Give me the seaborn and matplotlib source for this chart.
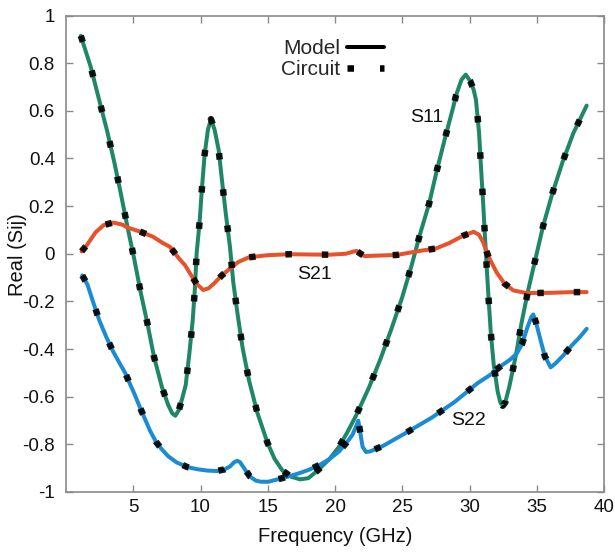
import numpy as np
import pandas as pd
import matplotlib
matplotlib.use("Agg")
import matplotlib.pyplot as plt
import seaborn as sns
from matplotlib.lines import Line2D

# ---- data ----
s11_f = [1.1, 1.84, 2.45, 3.05, 3.6, 4.09, 4.58, 5.08, 5.55, 6.07, 6.54, 7.14, 7.6, 7.9, 8.13,
         8.4, 8.65, 8.9, 9.17, 9.42, 9.59, 9.71, 9.94, 10.11, 10.31, 10.55, 10.78, 11.05, 11.35,
         11.62, 11.9, 12.19, 12.44, 12.77, 13.13, 13.6, 14.22, 14.97, 15.5, 16.08, 16.7, 17.4,
         18.02, 18.7, 19.58, 20.3, 20.91, 21.56, 22.53, 23.4, 24.22, 25.0, 25.7, 26.32, 27.0,
         27.56, 28.18, 28.8, 29.0, 29.4, 29.72, 30.05, 30.3, 30.48, 30.71, 30.85, 31.0, 31.13,
         31.27, 31.42, 31.58, 31.8, 32.1, 32.3, 32.47, 32.65, 32.96, 33.46, 33.88, 34.37, 34.94,
         35.49, 36.16, 36.9, 37.72, 38.71]
s11_v = [0.915, 0.784, 0.649, 0.517, 0.382, 0.249, 0.11, -0.024, -0.161, -0.297, -0.432, -0.561,
         -0.635, -0.67, -0.68, -0.655, -0.605, -0.551, -0.42, -0.28, -0.14, 0.0, 0.138, 0.277,
         0.418, 0.52, 0.565, 0.52, 0.436, 0.296, 0.159, 0.029, -0.121, -0.259, -0.395, -0.53,
         -0.666, -0.792, -0.86, -0.909, -0.935, -0.947, -0.942, -0.91, -0.862, -0.81, -0.75,
         -0.68, -0.561, -0.439, -0.311, -0.182, -0.048, 0.082, 0.211, 0.347, 0.485, 0.618, 0.665,
         0.73, 0.752, 0.725, 0.69, 0.646, 0.509, 0.368, 0.228, 0.092, -0.048, -0.189, -0.329,
         -0.465, -0.58, -0.625, -0.638, -0.625, -0.558, -0.423, -0.287, -0.151, -0.013, 0.12,
         0.253, 0.382, 0.506, 0.622]

s21_f = [1.16, 1.6, 2.2, 2.8, 3.5, 4.2, 4.58, 5.5, 6.45, 7.2, 7.73, 8.4, 8.85, 9.3, 9.71, 10.2,
         10.6, 11.0, 11.6, 12.2, 12.8, 13.6, 15.0, 16.6, 18.0, 19.6, 20.8, 21.3, 21.6, 21.9,
         22.2, 23.0, 24.6, 26.3, 27.5, 28.5, 29.5, 30.3, 30.7, 31.0, 31.4, 32.0, 32.6, 33.26,
         34.25, 36.0, 37.6, 38.71]
s21_v = [0.01, 0.04, 0.09, 0.12, 0.131, 0.122, 0.11, 0.093, 0.072, 0.045, 0.029, -0.02, -0.048,
         -0.09, -0.126, -0.152, -0.145, -0.125, -0.09, -0.062, -0.035, -0.015, -0.006,
         -0.002, -0.003, -0.004, 0.0, 0.008, 0.012, 0.0, -0.01, -0.008, -0.005, 0.012, 0.022,
         0.045, 0.075, 0.092, 0.08, 0.05, -0.01, -0.077, -0.125, -0.154, -0.165, -0.164, -0.161,
         -0.161]

s22_f = [1.21, 1.6, 2.0, 2.48, 3.0, 3.5, 4.01, 4.4, 4.76, 5.1, 5.5, 6.25, 6.7, 7.11, 7.6, 8.23,
         9.0, 9.71, 10.5, 11.2, 11.8, 12.19, 12.5, 12.74, 12.94, 13.3, 13.68, 14.1, 14.5, 15.04,
         15.8, 16.65, 17.4, 18.14, 18.9, 19.58, 20.3, 20.9, 21.3, 21.6, 21.73, 21.85, 22.05, 22.3,
         22.6, 23.59, 25.33, 27.19, 28.92, 30.58, 31.5, 32.27, 33.0, 33.5, 33.9, 34.3, 34.6,
         34.74, 34.95, 35.29, 35.6, 36.03, 36.4, 37.0, 37.6, 38.2, 38.71]
s22_v = [-0.091, -0.13, -0.2, -0.28, -0.35, -0.41, -0.462, -0.5, -0.547, -0.59, -0.645, -0.743,
         -0.79, -0.82, -0.85, -0.876, -0.895, -0.904, -0.91, -0.912, -0.905, -0.893, -0.875,
         -0.869, -0.875, -0.905, -0.935, -0.952, -0.957, -0.957, -0.946, -0.933, -0.92, -0.905,
         -0.885, -0.862, -0.83, -0.79, -0.76, -0.72, -0.701, -0.74, -0.81, -0.832, -0.83, -0.806,
         -0.75, -0.688, -0.621, -0.544, -0.51, -0.474, -0.445, -0.42, -0.38, -0.31, -0.265,
         -0.255, -0.29, -0.364, -0.43, -0.477, -0.46, -0.425, -0.385, -0.35, -0.315]

series_names = ["S11", "S21", "S22"]
series_colors = ["#1f8768", "#e5522b", "#1b8bd2"]
label_pos = {"S11": (26.85, 0.571), "S21": (18.5, -0.088), "S22": (29.9, -0.70)}

x_ticks = [5, 10, 15, 20, 25, 30, 35, 40]
y_ticks = [-1, -0.8, -0.6, -0.4, -0.2, 0, 0.2, 0.4, 0.6, 0.8, 1]
y_tick_labels = ["-1", "-0.8", "-0.6", "-0.4", "-0.2", "0", "0.2", "0.4", "0.6", "0.8", "1"]

# ---- style ----
sns.set_style("ticks")
plt.rcParams["font.family"] = ["Liberation Sans", "DejaVu Sans"]

DPI = 100
fig = plt.figure(figsize=(6.15, 5.52), dpi=DPI)
ax = fig.add_axes([66 / 615, 1 - 492 / 552, (604 - 66) / 615, (492 - 15.5) / 552])

frames = []
for name, f, v in zip(series_names, [s11_f, s21_f, s22_f], [s11_v, s21_v, s22_v]):
    frames.append(pd.DataFrame({"f": f, "v": v, "s": name}))
df = pd.concat(frames, ignore_index=True)

px = 72.0 / DPI  # points per pixel
for name, color in zip(series_names, series_colors):
    d = df[df["s"] == name]
    sns.lineplot(data=d, x="f", y="v", ax=ax, color=color, lw=4 * px,
                 estimator=None, sort=False, legend=False, zorder=2)
for name in series_names:
    d = df[df["s"] == name]
    sns.lineplot(data=d, x="f", y="v", ax=ax, color="black", lw=6.5 * px,
                 estimator=None, sort=False, legend=False, zorder=3, alpha=0.9)
    ax.lines[-1].set_linestyle((0, (1, 4.6)))
    ax.lines[-1].set_dash_capstyle("butt")

for name in series_names:
    x, y = label_pos[name]
    ax.text(x, y, name, ha="center", va="center", fontsize=14, color="#111111")

ax.set_xlim(0, 40)
ax.set_ylim(-1, 1)
ax.set_xticks(x_ticks)
ax.set_xticklabels([str(t) for t in x_ticks])
ax.set_yticks(y_ticks)
ax.set_yticklabels(y_tick_labels)
ax.tick_params(direction="in", top=True, right=True, length=5, width=1,
               color="#8a8a8a", labelsize=13.5, labelcolor="#111111")
ax.tick_params(axis="y", pad=8)
ax.tick_params(axis="x", pad=5)
for sp in ax.spines.values():
    sp.set_visible(True)
    sp.set_color("#8a8a8a")
    sp.set_linewidth(1.2)

ax.set_xlabel("Frequency (GHz)", fontsize=14.5, color="#111111", labelpad=8)
ax.set_ylabel("Real (Sij)", fontsize=14.5, color="#111111")
ax.yaxis.set_label_coords((27 - 66) / 538, (492 - 255) / 476.5)

h_model = Line2D([], [], color="black", lw=4 * px)
h_circ = Line2D([], [], color="black", lw=6.5 * px, linestyle=(0, (1, 4.0)),
                dash_capstyle="butt")
leg = ax.legend([h_model, h_circ], ["Model", "Circuit"], loc="upper left",
                bbox_to_anchor=(281 / 615, 1 - 39 / 552), bbox_transform=fig.transFigure,
                frameon=False, markerfirst=False, fontsize=15, handlelength=1.75,
                handletextpad=0.35, labelspacing=0.1, borderpad=0, borderaxespad=0)

fig.savefig("out.png", dpi=DPI)
